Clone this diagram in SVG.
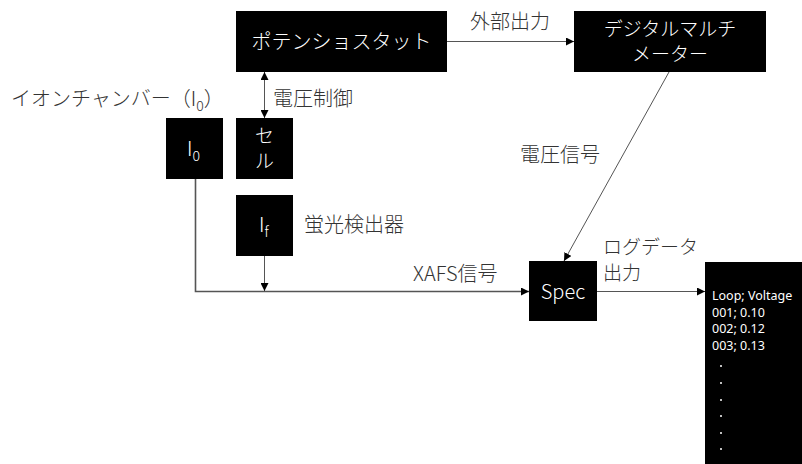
<svg xmlns="http://www.w3.org/2000/svg" width="802" height="464" viewBox="0 0 802 464">
<style>
.box{fill:#000;}
.t{font-family:"Noto Sans CJK JP","Noto Sans",sans-serif;font-size:20px;fill:#333;font-weight:300;}
.s{font-size:19px;}
.w{fill:#fff;}
.c{text-anchor:middle;}
.log{font-family:"Noto Sans","Liberation Sans",sans-serif;font-size:12.5px;fill:#fff;}
.ln{stroke:#555;stroke-width:1;fill:none;}
.ln2{stroke:#555;stroke-width:1.6;fill:none;}
</style>
<defs>
<marker id="ah" markerUnits="userSpaceOnUse" markerWidth="9" markerHeight="8" refX="8" refY="4" orient="auto-start-reverse">
<path d="M0,0 L8,4 L0,8 Z" fill="#000"/>
</marker>
</defs>
<rect width="802" height="464" fill="#fff"/>
<g id="connectors">
<line class="ln" x1="447" y1="41.5" x2="574" y2="41.5" marker-end="url(#ah)"/>
<line class="ln" x1="264.5" y1="72" x2="264.5" y2="118" marker-start="url(#ah)" marker-end="url(#ah)"/>
<line class="ln" x1="669" y1="72" x2="564" y2="261" marker-end="url(#ah)"/>
<polyline class="ln2" points="195.5,179 195.5,291.5 529,291.5" marker-end="url(#ah)"/>
<line class="ln" x1="264.5" y1="256" x2="264.5" y2="291" marker-end="url(#ah)"/>
<line class="ln" x1="597" y1="291.5" x2="705" y2="291.5" marker-end="url(#ah)"/>
<text class="t" x="470" y="29">外部出力</text>
<text class="t" x="273" y="106">電圧制御</text>
<text class="t" x="520" y="162">電圧信号</text>
<text class="t" x="413" y="281">XAFS信号</text>
<text class="t s" x="603" y="254">ログデータ</text>
<text class="t s" x="603" y="280">出力</text>
</g>
<g id="potentiostat">
<rect class="box" x="236" y="11" width="211" height="61"/>
<text class="t w c" x="341.5" y="48.5">ポテンショスタット</text>
</g>
<g id="dmm">
<rect class="box" x="574" y="11" width="192" height="61"/>
<text class="t s w c" x="670" y="36">デジタルマルチ</text>
<text class="t s w c" x="670" y="61">メーター</text>
</g>
<g id="ionchamber">
<text class="t" x="11" y="106">イオンチャンバー（I<tspan font-size="14" dy="5">0</tspan><tspan dy="-5">）</tspan></text>
<rect class="box" x="166" y="118" width="57" height="61"/>
<text class="t w" x="187" y="156">I<tspan font-size="14" dy="5">0</tspan></text>
</g>
<g id="cell">
<rect class="box" x="236" y="118" width="57" height="61"/>
<text class="t s w c" x="264.5" y="143">セ</text>
<text class="t s w c" x="264.5" y="168">ル</text>
</g>
<g id="fluorescence">
<rect class="box" x="236" y="195" width="57" height="61"/>
<text class="t w" x="259" y="232">I<tspan font-size="14" dy="5">f</tspan></text>
<text class="t" x="304" y="232">蛍光検出器</text>
</g>
<g id="spec">
<rect class="box" x="529" y="261" width="68" height="60"/>
<text class="t w c" x="563" y="298.5">Spec</text>
</g>
<g id="logfile">
<rect class="box" x="705" y="262" width="97" height="202"/>
<text class="log" x="712" y="300">Loop; Voltage</text>
<text class="log" x="712" y="317">001; 0.10</text>
<text class="log" x="712" y="333">002; 0.12</text>
<text class="log" x="712" y="350">003; 0.13</text>
<g fill="#fff">
<circle cx="721" cy="366" r="1"/>
<circle cx="721" cy="383" r="1"/>
<circle cx="721" cy="400" r="1"/>
<circle cx="721" cy="416" r="1"/>
<circle cx="721" cy="433" r="1"/>
<circle cx="721" cy="449" r="1"/>
</g>
</g>
</svg>
